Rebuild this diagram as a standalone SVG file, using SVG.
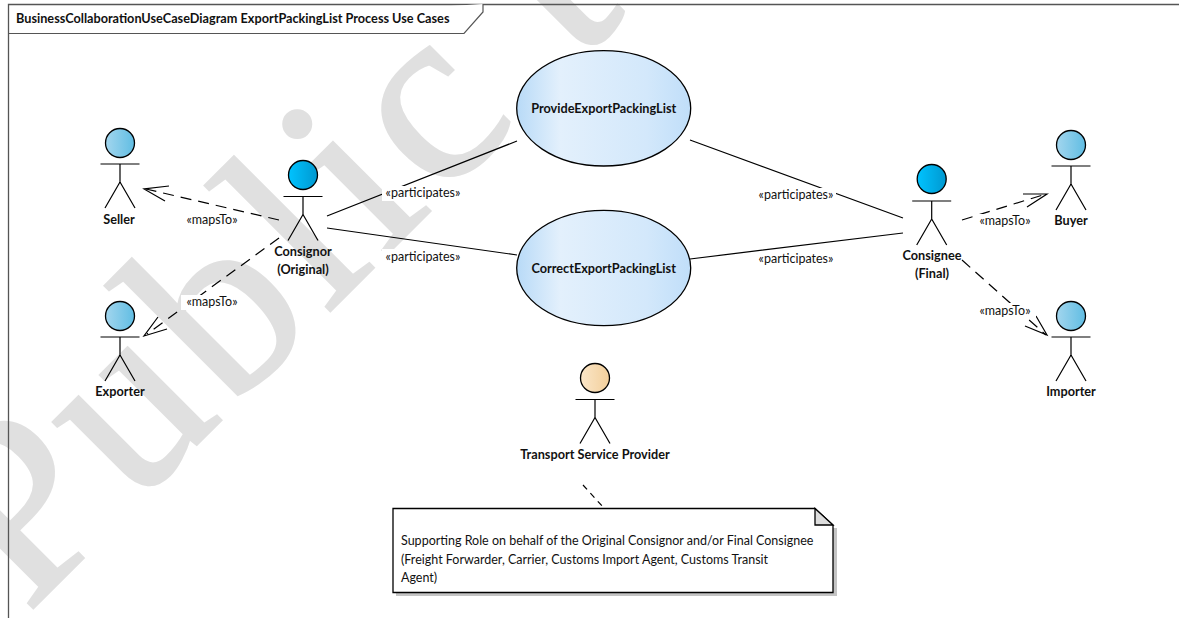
<svg xmlns="http://www.w3.org/2000/svg" width="1179" height="618" viewBox="0 0 1179 618">
<style>
text{font-family:Lato,"Open Sans","Liberation Sans",sans-serif;font-size:12.500px;fill:#111}
.b{font-weight:700;text-anchor:middle;font-size:12.700px}
.l{text-anchor:middle}
.wm{font-family:"Liberation Serif",serif;font-size:255px;letter-spacing:9px;fill:#e0e0e0;stroke:#e0e0e0;stroke-width:3px}
.s{fill:none;stroke:#000;stroke-width:1.200}
.d{fill:none;stroke:#000;stroke-width:1.200;stroke-dasharray:11 7}
.lb{fill:#fff}
.st{stroke:#000;stroke-width:1.300}
</style>
<defs>
<linearGradient id="ga"><stop offset="0" stop-color="#a3d6ee"/><stop offset="1" stop-color="#60bde3"/></linearGradient>
<linearGradient id="gb"><stop offset="0" stop-color="#00c3ff"/><stop offset="1" stop-color="#0098d0"/></linearGradient>
<linearGradient id="gc"><stop offset="0" stop-color="#fbe6c8"/><stop offset="1" stop-color="#f2cf9b"/></linearGradient>
<linearGradient id="gu"><stop offset="0" stop-color="#b8daf7"/><stop offset=".25" stop-color="#e3f0fc"/><stop offset=".75" stop-color="#d3e8fb"/><stop offset="1" stop-color="#c0def9"/></linearGradient>
<g id="actor"><path class="s" d="M-19.500 15H19.500M0 15V33M0 33L-15 59M0 33L15 59"/></g>
</defs>
<rect width="1179" height="618" fill="#fff"/>
<text class="wm" transform="translate(27 614) rotate(-45)">Public t</text>
<g id="frame"><path d="M8.500 618V4.500H1179" fill="none" stroke="#555" stroke-width="1.300"/><path d="M8 33.500H464L483 12V4" fill="#fff" stroke="#555" stroke-width="1.200"/><text x="16" y="23" style="font-weight:700;font-size:12.700px">BusinessCollaborationUseCaseDiagram ExportPackingList Process Use Cases</text></g>
<g id="connectors">
<path class="s" d="M327 216L517 141M327 228L517 255M690 140L903 218M690 259L903 233"/>
<path class="d" d="M279 220L146 189M279 238L147 334M962 220L1046 194M962 260L1046 335"/>
<path class="s" d="M169 186L144 189L165 201M158 317L144 336L167 329M1023 194L1047 194L1027 207M1036 316L1047 335L1025 326"/>
<path class="d" style="stroke-dasharray:6 5" d="M583 485L603 507"/>
<g id="conn-labels">
<rect class="lb" x="382" y="186" width="81" height="15"/><text class="l" x="423" y="197">«participates»</text>
<rect class="lb" x="382" y="249" width="81" height="15"/><text class="l" x="423" y="261">«participates»</text>
<rect class="lb" x="755" y="188" width="81" height="15"/><text class="l" x="796" y="199">«participates»</text>
<rect class="lb" x="755" y="252" width="81" height="15"/><text class="l" x="796" y="263">«participates»</text>
<rect class="lb" x="181" y="213" width="62" height="15"/><text class="l" x="212" y="224">«mapsTo»</text>
<rect class="lb" x="181" y="295" width="62" height="15"/><text class="l" x="212" y="306">«mapsTo»</text>
<rect class="lb" x="974" y="214" width="62" height="15"/><text class="l" x="1005" y="225">«mapsTo»</text>
<rect class="lb" x="974" y="303" width="62" height="15"/><text class="l" x="1005" y="315">«mapsTo»</text>
</g>
</g>
<g id="uc-provide"><ellipse cx="603.700" cy="108.300" rx="87" ry="57.700" fill="url(#gu)" class="st"/><text class="b" x="603.700" y="113">ProvideExportPackingList</text></g>
<g id="uc-correct"><ellipse cx="603.700" cy="268" rx="87" ry="57.700" fill="url(#gu)" class="st"/><text class="b" x="603.700" y="273">CorrectExportPackingList</text></g>
<g id="actor-seller"><circle cx="120" cy="143" r="14.500" fill="url(#ga)" class="st"/><use href="#actor" x="120" y="149"/><text class="b" x="119" y="224">Seller</text></g>
<g id="actor-exporter"><circle cx="120" cy="316" r="14.500" fill="url(#ga)" class="st"/><use href="#actor" x="120" y="322"/><text class="b" x="120" y="396">Exporter</text></g>
<g id="actor-consignor"><circle cx="303" cy="175" r="14.500" fill="url(#gb)" class="st"/><use href="#actor" x="303" y="181.500"/><text class="b" x="303" y="256">Consignor</text><text class="b" x="303" y="274">(Original)</text></g>
<g id="actor-consignee"><circle cx="931.700" cy="179" r="14.500" fill="url(#gb)" class="st"/><use href="#actor" x="931.700" y="186"/><text class="b" x="932" y="260">Consignee</text><text class="b" x="932" y="278">(Final)</text></g>
<g id="actor-buyer"><circle cx="1071" cy="145" r="14.500" fill="url(#ga)" class="st"/><use href="#actor" x="1071" y="151"/><text class="b" x="1071" y="225">Buyer</text></g>
<g id="actor-importer"><circle cx="1071" cy="316" r="14.500" fill="url(#ga)" class="st"/><use href="#actor" x="1071" y="322"/><text class="b" x="1071" y="396">Importer</text></g>
<g id="actor-tsp"><circle cx="595" cy="378" r="14.500" fill="url(#gc)" class="st"/><use href="#actor" x="595" y="384.500"/><text class="b" x="595" y="459">Transport Service Provider</text></g>
<g id="note">
<path d="M396 528H837V596H396Z" fill="#c4c4c4"/>
<path d="M393 508.500H815L833 525V592.500H393Z" fill="#fff" class="st"/>
<path d="M815 508.500V525H833Z" fill="#ddd" class="st"/>
<text x="401" y="545">Supporting Role on behalf of the Original Consignor and/or Final Consignee</text>
<text x="401" y="564">(Freight Forwarder, Carrier, Customs Import Agent, Customs Transit</text>
<text x="401" y="582">Agent)</text>
</g>
</svg>
